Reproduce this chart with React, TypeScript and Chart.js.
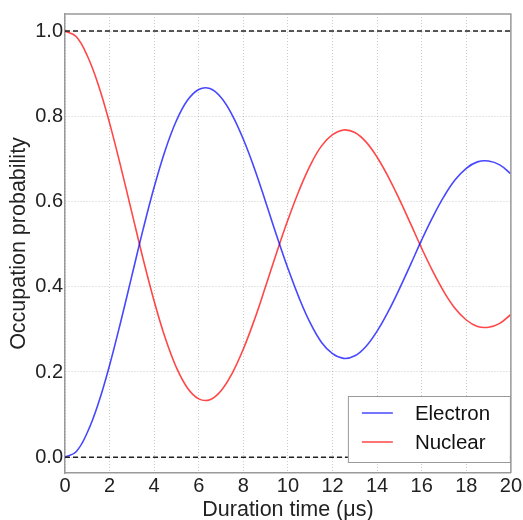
import React, { useEffect, useRef } from "react";
import { Chart, registerables } from "chart.js";

Chart.register(...registerables);

const times = [0, 0.5, 1, 1.5, 2, 2.5, 3, 3.5, 4, 4.5, 5, 5.5, 6, 6.5, 7, 7.5, 8, 8.5, 9, 9.5, 10, 10.5, 11, 11.5, 12, 12.5, 13, 13.5, 14, 14.5, 15, 15.5, 16, 16.5, 17, 17.5, 18, 18.5, 19, 19.5, 20];
const electron = [0.0, 0.013, 0.058, 0.127, 0.216, 0.318, 0.426, 0.534, 0.634, 0.721, 0.79, 0.838, 0.863, 0.865, 0.844, 0.803, 0.746, 0.677, 0.599, 0.519, 0.443, 0.374, 0.315, 0.27, 0.243, 0.232, 0.238, 0.26, 0.296, 0.342, 0.395, 0.452, 0.51, 0.564, 0.612, 0.651, 0.678, 0.693, 0.695, 0.686, 0.665];
const nuclear = [1.0, 0.987, 0.942, 0.873, 0.784, 0.682, 0.574, 0.466, 0.366, 0.279, 0.21, 0.162, 0.137, 0.135, 0.156, 0.197, 0.254, 0.323, 0.401, 0.481, 0.557, 0.626, 0.685, 0.73, 0.757, 0.768, 0.762, 0.74, 0.704, 0.658, 0.605, 0.548, 0.49, 0.436, 0.388, 0.349, 0.322, 0.307, 0.305, 0.314, 0.335];
const refLevels = [0, 1];
const xTicks = [0, 2, 4, 6, 8, 10, 12, 14, 16, 18, 20];
const yTicks = [0, 0.2, 0.4, 0.6, 0.8, 1.0];
const seriesNames = ["Electron", "Nuclear"];
const seriesColors = ["rgba(0,0,255,0.72)", "rgba(255,0,0,0.72)"];

const FONT = "'Liberation Sans', Arial, sans-serif";

export default function App() {
  const ref = useRef<HTMLCanvasElement>(null);
  useEffect(() => {
    document.body.style.margin = "0";
    const ctx = ref.current!;
    const framePlugin = {
      id: "frame",
      afterDatasetsDraw(chart: any) {
        const c = chart.ctx;
        const a = chart.chartArea;
        c.save();
        c.strokeStyle = "#999";
        c.lineWidth = 1.5;
        c.beginPath();
        c.moveTo(a.left, a.top);
        c.lineTo(a.right, a.top);
        c.lineTo(a.right, a.bottom);
        c.stroke();
        c.restore();
      },
    };
    const legendPlugin = {
      id: "innerLegend",
      afterDraw(chart: any) {
        const c = chart.ctx;
        const a = chart.chartArea;
        const bx = a.right - 163;
        const by = a.bottom - 77;
        const bw = 162;
        const bh = 66;
        c.save();
        c.fillStyle = "#fff";
        c.fillRect(bx, by, bw, bh);
        c.strokeStyle = "#999";
        c.lineWidth = 1;
        c.strokeRect(bx + 0.5, by + 0.5, bw, bh);
        c.font = `20.5px ${FONT}`;
        c.textBaseline = "middle";
        seriesNames.forEach((n, i) => {
          const y = by + 17 + i * 29;
          c.strokeStyle = seriesColors[i];
          c.lineWidth = 1.5;
          c.beginPath();
          c.moveTo(bx + 14, y);
          c.lineTo(bx + 45, y);
          c.stroke();
          c.fillStyle = "#111";
          c.fillText(n, bx + 67, y + 1);
        });
        c.restore();
      },
    };
    const chart = new Chart(ctx, {
      type: "line",
      data: {
        datasets: [
          ...refLevels.map((lv) => ({
            label: "ref" + lv,
            data: [{ x: 0, y: lv }, { x: 20, y: lv }],
            borderColor: "#222",
            borderWidth: 1.4,
            borderDash: [5, 3],
            pointRadius: 0,
          })),
          {
            label: seriesNames[0],
            data: times.map((t, i) => ({ x: t, y: electron[i] })),
            borderColor: seriesColors[0],
            borderWidth: 1.6,
            pointRadius: 0,
            tension: 0.4,
          },
          {
            label: seriesNames[1],
            data: times.map((t, i) => ({ x: t, y: nuclear[i] })),
            borderColor: seriesColors[1],
            borderWidth: 1.6,
            pointRadius: 0,
            tension: 0.4,
          },
        ],
      },
      options: {
        animation: false,
        responsive: false,
        layout: { padding: { left: 0, right: 12, top: 12, bottom: 0 } },
        plugins: { legend: { display: false }, tooltip: { enabled: false } },
        scales: {
          x: {
            type: "linear",
            min: 0,
            max: 20,
            afterBuildTicks: (s: any) => {
              s.ticks = xTicks.map((v) => ({ value: v }));
            },
            afterFit: (s: any) => {
              s.height = 47;
            },
            grid: { color: "rgba(0,0,0,0.2)", drawTicks: false },
            border: { color: "#999", width: 1.5, dash: [1, 2] },
            ticks: { color: "#222", font: { family: FONT, size: 20 }, padding: 1, maxRotation: 0 },
            title: { display: true, text: "Duration time (\u03bcs)", color: "#222", font: { family: FONT, size: 21.5 }, padding: { top: 0, bottom: -2.5 } },
          },
          y: {
            type: "linear",
            min: -0.037,
            max: 1.04,
            afterBuildTicks: (s: any) => {
              s.ticks = yTicks.map((v) => ({ value: v }));
            },
            afterFit: (s: any) => {
              s.width = 65;
            },
            grid: { color: "rgba(0,0,0,0.2)", drawTicks: false },
            border: { color: "#999", width: 1.5, dash: [1, 2] },
            ticks: { color: "#222", font: { family: FONT, size: 20 }, padding: 2, callback: (v: any) => Number(v).toFixed(1) },
            title: { display: true, text: "Occupation probability", color: "#222", font: { family: FONT, size: 21.5 }, padding: { top: 6.5, bottom: 0 } },
          },
        },
      },
      plugins: [framePlugin, legendPlugin],
    } as any);
    return () => chart.destroy();
  }, []);
  return <canvas ref={ref} width={523} height={520} style={{ display: "block" }} />;
}
